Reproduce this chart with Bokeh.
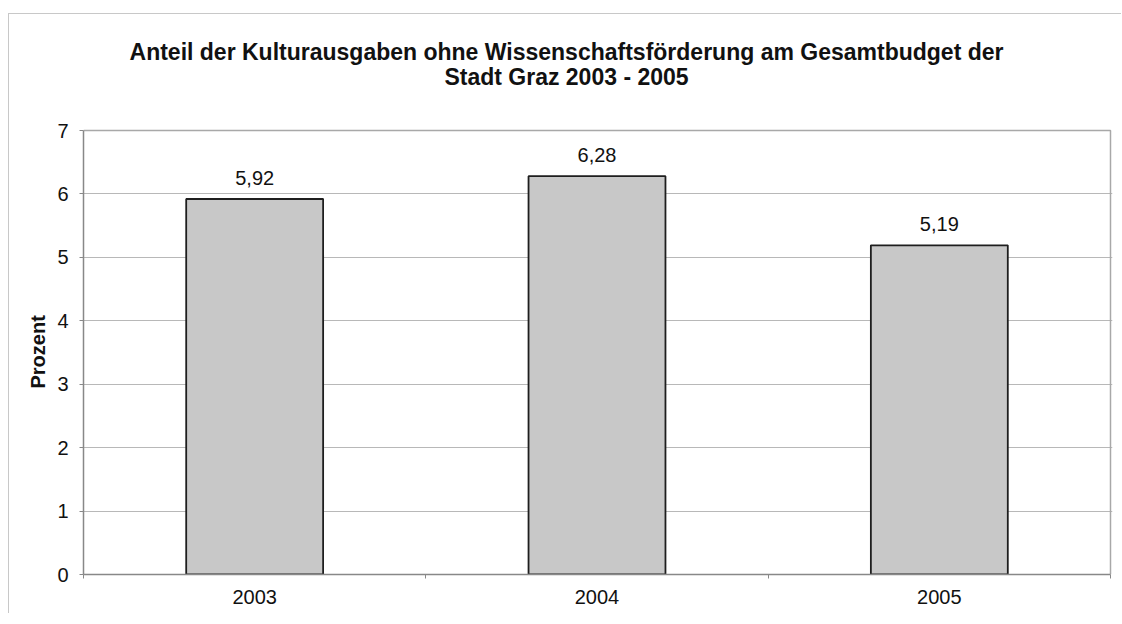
from bokeh.plotting import figure
from bokeh.models import Range1d, FixedTicker, ColumnDataSource, LabelSet, Label, Title
from bokeh.core.properties import value
from bokeh.embed import file_html
from bokeh.resources import INLINE

# ---- data ----
years = ["2003", "2004", "2005"]
values = [5.92, 6.28, 5.19]
y_ticks = [0, 1, 2, 3, 4, 5, 6, 7]
title_lines = ["Anteil der Kulturausgaben ohne Wissenschaftsförderung am Gesamtbudget der",
               "Stadt Graz 2003 - 2005"]
y_label = "Prozent"

FONT = "Liberation Sans"
TXT = "#111111"

# ---- geometry (canvas pixels) ----
W, H = 1113, 600
FL = 74                   # frame left
PLOT_TOP = 116            # pixel row of y = 7
PLOT_W, PLOT_H = 1027, 444
EXTRA_R = 2               # a little room so the right edge line is not clipped
YMAX = y_ticks[-1]
NCAT = len(years)
px_per_x = PLOT_W / NCAT
px_per_y = PLOT_H / YMAX

xs = [i + 0.5 for i in range(NCAT)]
labels = [f"{v:.2f}".replace(".", ",") for v in values]
src = ColumnDataSource(dict(x=xs, top=values, lab=labels))

p = figure(width=W, height=H, output_backend="svg", toolbar_location=None,
           x_range=Range1d(0, NCAT + EXTRA_R / px_per_x),
           y_range=Range1d(0, YMAX + PLOT_TOP / px_per_y),
           min_border_left=FL, min_border_top=0,
           min_border_right=W - FL - PLOT_W - EXTRA_R,
           min_border_bottom=H - PLOT_TOP - PLOT_H)
p.styles = {"border-left": "1px solid #c8c8c8", "border-top": "1px solid #c8c8c8",
            "margin-top": "13px", "margin-left": "8px"}
p.background_fill_color = "white"
p.border_fill_color = "white"
p.outline_line_color = None

# plot-area frame (top & right edges)
p.line(x=[0, NCAT, NCAT], y=[YMAX, YMAX, 0], line_color="#a8a8a8", line_width=1.5)

p.vbar(x="x", top="top", width=0.4, bottom=0, source=src,
       fill_color="#c8c8c8", line_color="#1e1e1e", line_width=1.8)

p.add_layout(LabelSet(x="x", y="top", text="lab", source=src, y_offset=14,
                      text_align="center", text_baseline="alphabetic",
                      text_font=value(FONT), text_font_size=value("20px"),
                      text_color=TXT))

# axes
p.xgrid.visible = False
p.ygrid.grid_line_color = "#b8b8b8"
p.ygrid.grid_line_width = 1.2
p.ygrid.ticker = FixedTicker(ticks=y_ticks[:-1])

xa = p.xaxis[0]
xa.ticker = FixedTicker(ticks=xs, minor_ticks=list(range(NCAT + 1)))
xa.bounds = (0, NCAT)
xa.major_label_overrides = {x: y for x, y in zip(xs, years)}
xa.major_tick_out = 0
xa.major_tick_in = 0
xa.minor_tick_out = 4
xa.minor_tick_in = 0
xa.minor_tick_line_color = "#888888"
xa.axis_line_color = "#888888"
xa.axis_line_width = 1.5
xa.major_label_standoff = 11
xa.major_label_text_font = FONT
xa.major_label_text_font_size = "20px"
xa.major_label_text_color = TXT

ya = p.yaxis[0]
ya.ticker = FixedTicker(ticks=y_ticks)
ya.bounds = (0, YMAX)
ya.major_tick_out = 4
ya.major_tick_in = 0
ya.minor_tick_line_color = None
ya.major_tick_line_color = "#888888"
ya.axis_line_color = "#888888"
ya.axis_line_width = 1.5
ya.major_label_standoff = 11
ya.major_label_text_font = FONT
ya.major_label_text_font_size = "20px"
ya.major_label_text_color = TXT

# y-axis title, centred on the 0..7 span (not on the extended frame)
label_px = 72
ylab_offset = int(PLOT_H / 2 - label_px / 2 + (H - PLOT_TOP - PLOT_H) * 0)
p.add_layout(Title(text=y_label, align="left", offset=ylab_offset, standoff=12,
                   text_font=FONT, text_font_size="20px", text_font_style="bold",
                   text_color=TXT), "left")

# title: two centred bold lines above the plot area
title_cx = (557 - FL) / px_per_x
for line, base_above in zip(title_lines, [79, 54]):
    p.add_layout(Label(x=title_cx, y=YMAX + base_above / px_per_y, text=line,
                       text_align="center", text_baseline="alphabetic",
                       text_font=FONT, text_font_size="23px", text_font_style="bold",
                       text_color=TXT))

open("out.html", "w").write(file_html(p, INLINE))
